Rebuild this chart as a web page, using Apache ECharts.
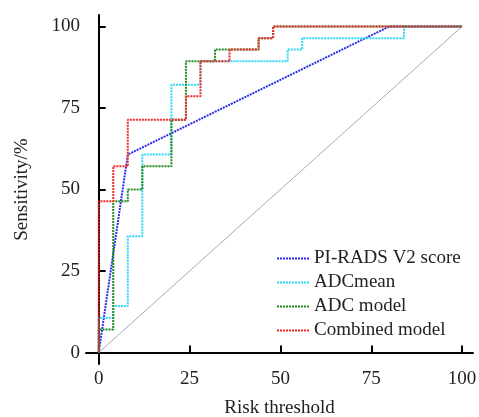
<!DOCTYPE html>
<html>
<head>
<meta charset="utf-8">
<script src="https://cdn.jsdelivr.net/npm/echarts@6/dist/echarts.min.js"></script>
<style>
  html, body { margin: 0; padding: 0; background: #fff; }
  #chart { width: 479px; height: 417px; }
</style>
</head>
<body>
<div id="chart"></div>
<script>
// ROC curves, [1 - specificity, sensitivity] in %
var piRads = [[0, 0], [8, 60.7], [80, 100], [100, 100]]
var adcMean = [[0, 0], [0, 10.7], [4, 10.7], [4, 14.3], [8, 14.3], [8, 35.7], [12, 35.7], [12, 60.7],
  [20, 60.7], [20, 82.1], [28, 82.1], [28, 89.3], [52, 89.3], [52, 92.9], [56, 92.9], [56, 96.4],
  [84, 96.4], [84, 100], [100, 100]]
var adcModel = [[0, 0], [0, 7.1], [4, 7.1], [4, 46.4], [8, 46.4], [8, 50], [12, 50], [12, 57.1],
  [20, 57.1], [20, 71.4], [24, 71.4], [24, 89.3], [32, 89.3], [32, 92.9], [36, 92.9], [44, 92.9],
  [44, 96.4], [48, 96.4], [48, 100], [100, 100]]
var combined = [[0, 0], [0, 46.4], [4, 46.4], [4, 57.1], [8, 57.1], [8, 71.4], [24, 71.4], [24, 78.6],
  [28, 78.6], [28, 89.3], [36, 89.3], [36, 92.9], [44, 92.9], [44, 96.4], [48, 96.4], [48, 100], [100, 100]]
var reference = [[0, 0], [100, 100]]
var ticks = [0, 25, 50, 75, 100]

var font = 'Liberation Serif'
var chart = echarts.init(document.getElementById('chart'))

function curve(name, data, color) {
  return {
    name: name,
    type: 'line',
    data: data,
    symbol: 'none',
    lineStyle: { color: color, width: 2, type: [2, 1] },
    itemStyle: { color: color }
  }
}

function axis(name, nameGap) {
  return {
    type: 'value',
    min: -3.5,
    max: 103.5,
    name: name,
    nameLocation: 'middle',
    nameGap: nameGap,
    nameTextStyle: { fontFamily: font, fontSize: 19, color: '#222' },
    splitLine: { show: false },
    axisLine: { lineStyle: { color: '#000', width: 2 } },
    axisTick: { inside: true, length: 7, customValues: ticks, lineStyle: { color: '#000', width: 2 } },
    axisLabel: { customValues: ticks, fontFamily: font, fontSize: 19, color: '#222', margin: 6 }
  }
}

var xAxis = axis('Risk threshold', 35)
xAxis.max = 103
var yAxis = axis('Sensitivity/%', 54)

chart.setOption({
  animation: false,
  grid: { left: 86, right: 6, top: 15, bottom: 53, outerBoundsMode: 'none' },
  legend: {
    orient: 'vertical',
    left: 271,
    top: 244,
    itemWidth: 32,
    itemHeight: 12,
    itemGap: 5,
    itemStyle: { opacity: 0 },
    textStyle: { fontFamily: font, fontSize: 19, color: '#222' },
    data: ['PI-RADS V2 score', 'ADCmean', 'ADC model', 'Combined model']
  },
  xAxis: xAxis,
  yAxis: yAxis,
  series: [
    {
      name: 'reference',
      type: 'line',
      data: reference,
      symbol: 'none',
      silent: true,
      lineStyle: { color: '#aaa', width: 1 }
    },
    curve('PI-RADS V2 score', piRads, '#2b2bf0'),
    curve('ADCmean', adcMean, '#2fd8f5'),
    curve('ADC model', adcModel, '#1f8a1f'),
    curve('Combined model', combined, '#ee2a2a')
  ]
})
</script>
</body>
</html>
